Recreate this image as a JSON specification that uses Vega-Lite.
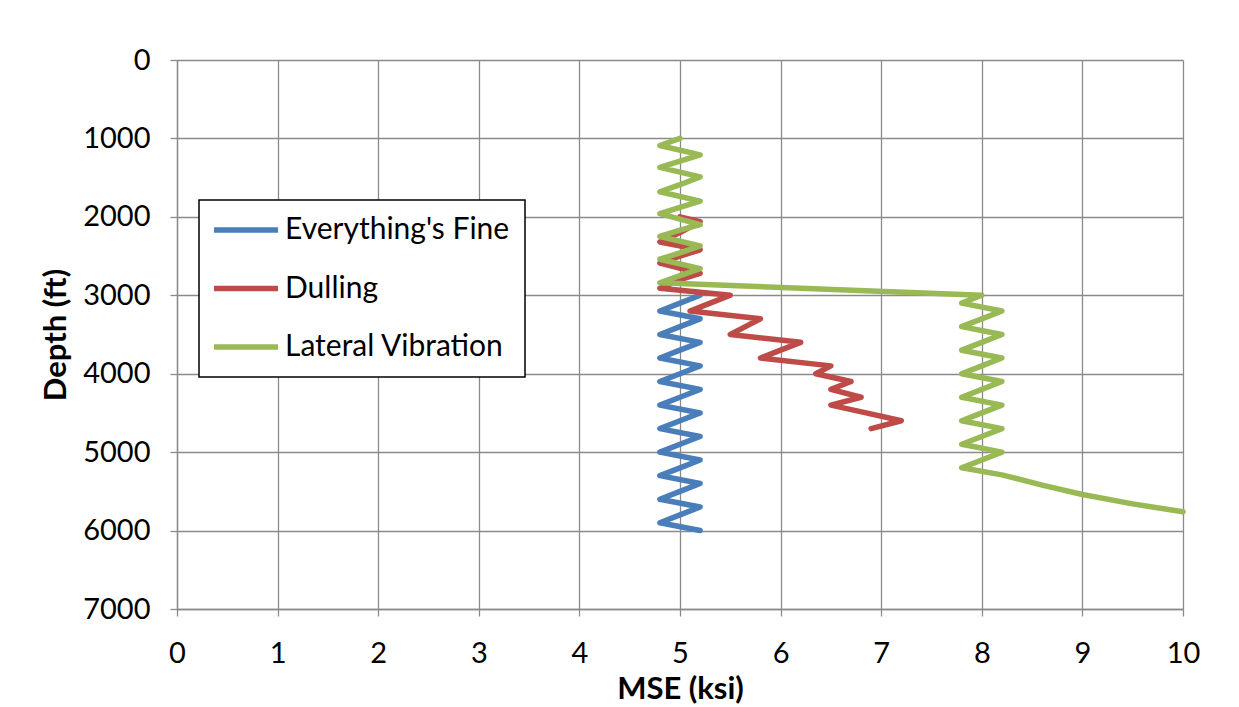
{
  "$schema": "https://vega.github.io/schema/vega-lite/v6.json",
  "width": 1006,
  "height": 549,
  "autosize": {"type": "none"},
  "padding": {"left": 177, "top": 60, "right": 56, "bottom": 98},
  "background": "white",
  "config": {
    "view": {"stroke": null},
    "font": "Lato",
    "axis": {
      "gridColor": "#8a8a8a", "gridWidth": 1.3,
      "domainColor": "#8a8a8a", "domainWidth": 1.3,
      "tickColor": "#8a8a8a", "tickWidth": 1.3, "tickSize": 7,
      "labelFont": "Lato", "labelFontSize": 29, "labelColor": "#000",
      "titleFont": "Lato", "titleFontSize": 31, "titleFontWeight": "bold", "titleColor": "#000"
    },
    "legend": {
      "strokeColor": "#000", "fillColor": "#fff", "strokeWidth": 1.5,
      "padding": 15, "rowPadding": 28.5,
      "labelFont": "Lato", "labelFontSize": 30, "labelColor": "#000", "labelOffset": 24, "labelLimit": 600,
      "symbolType": "M-4,0H4", "symbolSize": 256, "symbolOffset": 17, "symbolStrokeWidth": 5.5
    }
  },
  "data": {"values": [
    {"series": "Everything's Fine", "depth": 3000, "mse": 5.2},
    {"series": "Everything's Fine", "depth": 3100, "mse": 5.0},
    {"series": "Everything's Fine", "depth": 3200, "mse": 4.8},
    {"series": "Everything's Fine", "depth": 3300, "mse": 5.2},
    {"series": "Everything's Fine", "depth": 3400, "mse": 5.0},
    {"series": "Everything's Fine", "depth": 3500, "mse": 4.8},
    {"series": "Everything's Fine", "depth": 3600, "mse": 5.2},
    {"series": "Everything's Fine", "depth": 3700, "mse": 5.0},
    {"series": "Everything's Fine", "depth": 3800, "mse": 4.8},
    {"series": "Everything's Fine", "depth": 3900, "mse": 5.2},
    {"series": "Everything's Fine", "depth": 4000, "mse": 5.0},
    {"series": "Everything's Fine", "depth": 4100, "mse": 4.8},
    {"series": "Everything's Fine", "depth": 4200, "mse": 5.2},
    {"series": "Everything's Fine", "depth": 4300, "mse": 5.0},
    {"series": "Everything's Fine", "depth": 4400, "mse": 4.8},
    {"series": "Everything's Fine", "depth": 4500, "mse": 5.2},
    {"series": "Everything's Fine", "depth": 4600, "mse": 5.0},
    {"series": "Everything's Fine", "depth": 4700, "mse": 4.8},
    {"series": "Everything's Fine", "depth": 4800, "mse": 5.2},
    {"series": "Everything's Fine", "depth": 4900, "mse": 5.0},
    {"series": "Everything's Fine", "depth": 5000, "mse": 4.8},
    {"series": "Everything's Fine", "depth": 5100, "mse": 5.2},
    {"series": "Everything's Fine", "depth": 5200, "mse": 5.0},
    {"series": "Everything's Fine", "depth": 5300, "mse": 4.8},
    {"series": "Everything's Fine", "depth": 5400, "mse": 5.2},
    {"series": "Everything's Fine", "depth": 5500, "mse": 5.0},
    {"series": "Everything's Fine", "depth": 5600, "mse": 4.8},
    {"series": "Everything's Fine", "depth": 5700, "mse": 5.2},
    {"series": "Everything's Fine", "depth": 5800, "mse": 5.0},
    {"series": "Everything's Fine", "depth": 5900, "mse": 4.8},
    {"series": "Everything's Fine", "depth": 6000, "mse": 5.2},
    {"series": "Dulling", "depth": 2000, "mse": 5.0},
    {"series": "Dulling", "depth": 2060, "mse": 5.2},
    {"series": "Dulling", "depth": 2200, "mse": 5.0},
    {"series": "Dulling", "depth": 2320, "mse": 4.8},
    {"series": "Dulling", "depth": 2420, "mse": 5.2},
    {"series": "Dulling", "depth": 2500, "mse": 5.0},
    {"series": "Dulling", "depth": 2590, "mse": 4.8},
    {"series": "Dulling", "depth": 2720, "mse": 5.2},
    {"series": "Dulling", "depth": 2800, "mse": 5.0},
    {"series": "Dulling", "depth": 2910, "mse": 4.8},
    {"series": "Dulling", "depth": 3000, "mse": 5.5},
    {"series": "Dulling", "depth": 3100, "mse": 5.3},
    {"series": "Dulling", "depth": 3200, "mse": 5.1},
    {"series": "Dulling", "depth": 3300, "mse": 5.8},
    {"series": "Dulling", "depth": 3400, "mse": 5.65},
    {"series": "Dulling", "depth": 3500, "mse": 5.5},
    {"series": "Dulling", "depth": 3600, "mse": 6.2},
    {"series": "Dulling", "depth": 3700, "mse": 6.0},
    {"series": "Dulling", "depth": 3800, "mse": 5.8},
    {"series": "Dulling", "depth": 3900, "mse": 6.5},
    {"series": "Dulling", "depth": 4000, "mse": 6.35},
    {"series": "Dulling", "depth": 4100, "mse": 6.7},
    {"series": "Dulling", "depth": 4200, "mse": 6.5},
    {"series": "Dulling", "depth": 4300, "mse": 6.8},
    {"series": "Dulling", "depth": 4400, "mse": 6.5},
    {"series": "Dulling", "depth": 4500, "mse": 6.85},
    {"series": "Dulling", "depth": 4600, "mse": 7.2},
    {"series": "Dulling", "depth": 4700, "mse": 6.9},
    {"series": "Lateral Vibration", "depth": 1000, "mse": 5.0},
    {"series": "Lateral Vibration", "depth": 1090, "mse": 4.8},
    {"series": "Lateral Vibration", "depth": 1210, "mse": 5.2},
    {"series": "Lateral Vibration", "depth": 1290, "mse": 5.0},
    {"series": "Lateral Vibration", "depth": 1370, "mse": 4.8},
    {"series": "Lateral Vibration", "depth": 1490, "mse": 5.2},
    {"series": "Lateral Vibration", "depth": 1590, "mse": 5.0},
    {"series": "Lateral Vibration", "depth": 1680, "mse": 4.8},
    {"series": "Lateral Vibration", "depth": 1800, "mse": 5.2},
    {"series": "Lateral Vibration", "depth": 1880, "mse": 5.0},
    {"series": "Lateral Vibration", "depth": 1960, "mse": 4.8},
    {"series": "Lateral Vibration", "depth": 2100, "mse": 5.2},
    {"series": "Lateral Vibration", "depth": 2170, "mse": 5.0},
    {"series": "Lateral Vibration", "depth": 2250, "mse": 4.8},
    {"series": "Lateral Vibration", "depth": 2370, "mse": 5.2},
    {"series": "Lateral Vibration", "depth": 2460, "mse": 5.0},
    {"series": "Lateral Vibration", "depth": 2540, "mse": 4.8},
    {"series": "Lateral Vibration", "depth": 2660, "mse": 5.2},
    {"series": "Lateral Vibration", "depth": 2750, "mse": 5.0},
    {"series": "Lateral Vibration", "depth": 2840, "mse": 4.8},
    {"series": "Lateral Vibration", "depth": 3000, "mse": 8.0},
    {"series": "Lateral Vibration", "depth": 3100, "mse": 7.8},
    {"series": "Lateral Vibration", "depth": 3200, "mse": 8.2},
    {"series": "Lateral Vibration", "depth": 3300, "mse": 8.0},
    {"series": "Lateral Vibration", "depth": 3400, "mse": 7.8},
    {"series": "Lateral Vibration", "depth": 3500, "mse": 8.2},
    {"series": "Lateral Vibration", "depth": 3600, "mse": 8.0},
    {"series": "Lateral Vibration", "depth": 3700, "mse": 7.8},
    {"series": "Lateral Vibration", "depth": 3800, "mse": 8.2},
    {"series": "Lateral Vibration", "depth": 3900, "mse": 8.0},
    {"series": "Lateral Vibration", "depth": 4000, "mse": 7.8},
    {"series": "Lateral Vibration", "depth": 4100, "mse": 8.2},
    {"series": "Lateral Vibration", "depth": 4200, "mse": 8.0},
    {"series": "Lateral Vibration", "depth": 4300, "mse": 7.8},
    {"series": "Lateral Vibration", "depth": 4400, "mse": 8.2},
    {"series": "Lateral Vibration", "depth": 4500, "mse": 8.0},
    {"series": "Lateral Vibration", "depth": 4600, "mse": 7.8},
    {"series": "Lateral Vibration", "depth": 4700, "mse": 8.2},
    {"series": "Lateral Vibration", "depth": 4800, "mse": 8.0},
    {"series": "Lateral Vibration", "depth": 4900, "mse": 7.8},
    {"series": "Lateral Vibration", "depth": 5000, "mse": 8.2},
    {"series": "Lateral Vibration", "depth": 5100, "mse": 8.0},
    {"series": "Lateral Vibration", "depth": 5200, "mse": 7.8},
    {"series": "Lateral Vibration", "depth": 5290, "mse": 8.2},
    {"series": "Lateral Vibration", "depth": 5420, "mse": 8.6},
    {"series": "Lateral Vibration", "depth": 5540, "mse": 9.0},
    {"series": "Lateral Vibration", "depth": 5660, "mse": 9.5},
    {"series": "Lateral Vibration", "depth": 5760, "mse": 10.0}
  ]},
  "mark": {"type": "line", "strokeWidth": 5.5, "strokeJoin": "round", "strokeCap": "round"},
  "encoding": {
    "x": {
      "field": "mse", "type": "quantitative",
      "scale": {"domain": [0, 10], "nice": false, "zero": false},
      "axis": {"values": [0, 1, 2, 3, 4, 5, 6, 7, 8, 9, 10], "title": "MSE (ksi)", "labelFlush": false, "labelOverlap": false, "labelPadding": 23, "titlePadding": 6}
    },
    "y": {
      "field": "depth", "type": "quantitative",
      "scale": {"domain": [0, 7000], "reverse": true, "nice": false, "zero": false},
      "axis": {"values": [0, 1000, 2000, 3000, 4000, 5000, 6000, 7000], "format": "d", "title": "Depth (ft)", "labelOverlap": false, "labelPadding": 20, "titlePadding": 10}
    },
    "color": {
      "field": "series", "type": "nominal",
      "scale": {"domain": ["Everything's Fine", "Dulling", "Lateral Vibration"], "range": ["#4A7EBB", "#BE4B48", "#98B954"]},
      "legend": {"title": null, "orient": "none", "legendX": 22, "legendY": 140}
    },
    "order": {"field": "depth", "type": "quantitative"}
  }
}
